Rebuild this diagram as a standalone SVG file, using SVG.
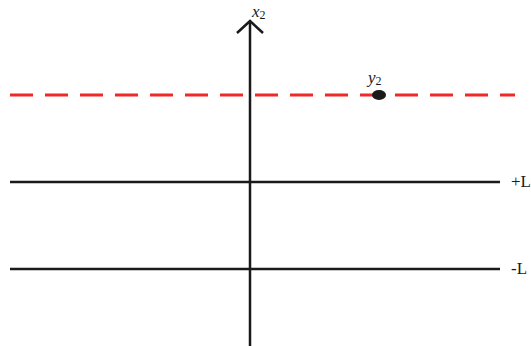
<svg xmlns="http://www.w3.org/2000/svg" width="531" height="346" viewBox="0 0 531 346">
<style>
.ln{stroke:#1a1a1a;stroke-width:2.5;fill:none}
.dash{stroke:#f02828;stroke-width:3;stroke-dasharray:23 12;fill:none}
.t{font-family:"Liberation Serif","DejaVu Serif",serif;font-size:17px;fill:#1a1a1a}
.i{font-style:italic}
</style>
<rect width="531" height="346" fill="#fff"/>
<g id="connectors">
<line class="ln" x1="10" y1="182" x2="500" y2="182"/>
<line class="ln" x1="10" y1="269" x2="500" y2="269"/>
<line class="dash" x1="10" y1="95" x2="515" y2="95"/>
<line class="ln" x1="250" y1="346" x2="250" y2="22"/>
<polyline class="ln" points="237,33 250,21 263,33"/>
</g>
<g id="axis-label"><text class="t i" x="252" y="17" font-size="18">x<tspan font-size="12" dy="2" font-style="normal">2</tspan></text></g>
<g id="y2"><ellipse cx="379" cy="95" rx="7" ry="5" fill="#1a1a1a"/><text class="t i" x="368" y="83" font-size="18">y<tspan font-size="12" dy="2" font-style="normal">2</tspan></text></g>
<g id="plusL"><text class="t" x="511" y="187">+L</text></g>
<g id="minusL"><text class="t" x="511" y="274">-L</text></g>
</svg>
